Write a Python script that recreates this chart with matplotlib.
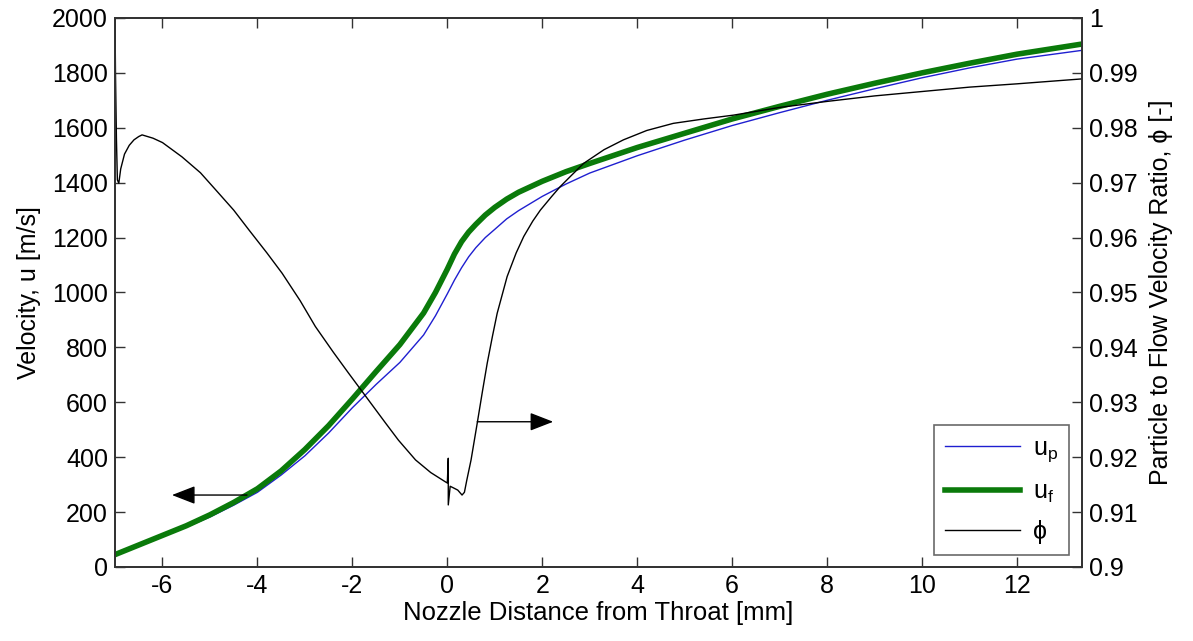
import matplotlib
matplotlib.use("Agg")
import matplotlib.pyplot as plt

plt.rcParams["font.family"] = ["Liberation Sans", "DejaVu Sans"]
plt.rcParams["mathtext.default"] = "regular"
plt.rcParams["axes.unicode_minus"] = False

# velocity data (m/s) vs nozzle distance (mm)
x_vel = [-7.0, -6.5, -6.0, -5.5, -5.0, -4.5, -4.0, -3.5, -3.0, -2.5, -2.0, -1.5,
         -1.0, -0.5, -0.25, 0.0, 0.15, 0.3, 0.45, 0.6, 0.8, 1.0, 1.25, 1.5, 2.0, 2.5,
         3.0, 4.0, 5.0, 6.0, 7.0, 8.0, 9.0, 10.0, 11.0, 12.0, 13.37]
u_f = [45, 80, 115, 150, 190, 235, 285, 350, 428, 515, 612, 712,
       810, 925, 1000, 1085, 1140, 1185, 1220, 1248, 1282, 1310, 1340, 1365, 1405, 1440,
       1470, 1528, 1580, 1632, 1678, 1722, 1762, 1800, 1835, 1868, 1905]
u_p = [45, 80, 113, 145, 182, 225, 272, 335, 405, 488, 580, 665,
       745, 845, 915, 995, 1045, 1090, 1130, 1163, 1200, 1230, 1268, 1298, 1350, 1395,
       1435, 1498, 1555, 1608, 1655, 1700, 1742, 1782, 1818, 1850, 1882]

# particle to flow velocity ratio
x_phi = [-7.0, -6.99, -6.97, -6.95, -6.92, -6.88, -6.8, -6.7, -6.6, -6.5, -6.43,
         -6.2, -6.0, -5.59, -5.2, -4.88, -4.5, -4.18, -3.8, -3.48, -3.1, -2.78, -2.4,
         -2.08, -1.66, -1.3, -1.03, -0.67, -0.35, -0.04, 0.0,
         0.02, 0.02, 0.06, 0.13, 0.22, 0.31, 0.36, 0.41, 0.5, 0.63, 0.74, 0.84,
         0.95, 1.05, 1.26, 1.45, 1.61, 1.8, 1.96, 2.2, 2.38, 2.6, 2.87, 3.3, 3.71,
         4.2, 4.76, 5.4, 6.03, 7.0, 8.0, 9.0, 10.0, 11.0, 12.0, 13.37]
phi = [1.0, 0.99, 0.978, 0.9705, 0.9699, 0.9725, 0.9752, 0.9768, 0.9778, 0.9784, 0.9787,
       0.9781, 0.9773, 0.9747, 0.9718, 0.9687, 0.9650, 0.9614, 0.9572, 0.9535, 0.9485, 0.9438, 0.9391,
       0.9353, 0.9304, 0.9262, 0.9231, 0.9195, 0.9172, 0.9155, 0.9153,
       0.9198, 0.9113, 0.9147, 0.9144, 0.9140, 0.9131, 0.9136, 0.9158, 0.9195, 0.9262, 0.9320, 0.9371,
       0.9420, 0.9462, 0.9529, 0.9572, 0.9602, 0.9630, 0.9650, 0.9675, 0.9693, 0.9712, 0.9735, 0.9760, 0.9778,
       0.9795, 0.9808, 0.9816, 0.9823, 0.9837, 0.9848, 0.9858, 0.9866, 0.9874, 0.9880, 0.9889]

x_ticks = [-6, -4, -2, 0, 2, 4, 6, 8, 10, 12]
u_ticks = list(range(0, 2001, 200))
phi_ticks = [0.9, 0.91, 0.92, 0.93, 0.94, 0.95, 0.96, 0.97, 0.98, 0.99, 1.0]
phi_labels = ["0.9", "0.91", "0.92", "0.93", "0.94", "0.95", "0.96", "0.97", "0.98", "0.99", "1"]

fig = plt.figure(figsize=(11.93, 6.41), dpi=100)
ax = fig.add_axes([0.0964, 0.1155, 0.8106, 0.8565])
ax2 = ax.twinx()

lp, = ax.plot(x_vel, u_p, color="#1f1fd0", lw=1.0, label="$u_p$")
lf, = ax.plot(x_vel, u_f, color="#0a7a0a", lw=4.0, label="$u_f$")
lphi, = ax2.plot(x_phi, phi, color="black", lw=1.0, label="ϕ")

ax.set_xlim(-7, 13.37)
ax.set_ylim(0, 2000)
ax2.set_ylim(0.9, 1.0)
ax.set_xticks(x_ticks)
ax.set_yticks(u_ticks)
ax2.set_yticks(phi_ticks)
ax2.set_yticklabels(phi_labels)

for a in (ax, ax2):
    a.tick_params(direction="in", length=7, width=1, labelsize=18, color="#333333", pad=5)
    for s in a.spines.values():
        s.set_linewidth(1.3)
        s.set_color("#333333")
ax.tick_params(top=True)

ax.set_xlabel("Nozzle Distance from Throat [mm]", fontsize=18.5, labelpad=2)
ax.set_ylabel("Velocity, u [m/s]", fontsize=18, labelpad=8)
ax2.set_ylabel("Particle to Flow Velocity Ratio, ϕ [-]", fontsize=18, labelpad=8)

# direction arrows
arrow_style = dict(arrowstyle="-|>,head_length=0.9,head_width=0.35", color="black",
                   lw=1.0, mutation_scale=16, shrinkA=0, shrinkB=0)
ax.annotate("", xy=(-5.8, 262), xytext=(-4.22, 262), arrowprops=arrow_style)
ax.annotate("", xy=(2.23, 529), xytext=(0.63, 529), arrowprops=arrow_style)

leg = ax.legend(handles=[lp, lf, lphi], loc="lower right", fontsize=18,
                frameon=True, fancybox=False, edgecolor="#444444",
                borderpad=0.45, labelspacing=0.6, handlelength=3.0, handletextpad=0.5,
                borderaxespad=0, bbox_to_anchor=(0.9866, 0.022))
leg.get_frame().set_linewidth(1.2)

fig.savefig("out.png", dpi=100)
